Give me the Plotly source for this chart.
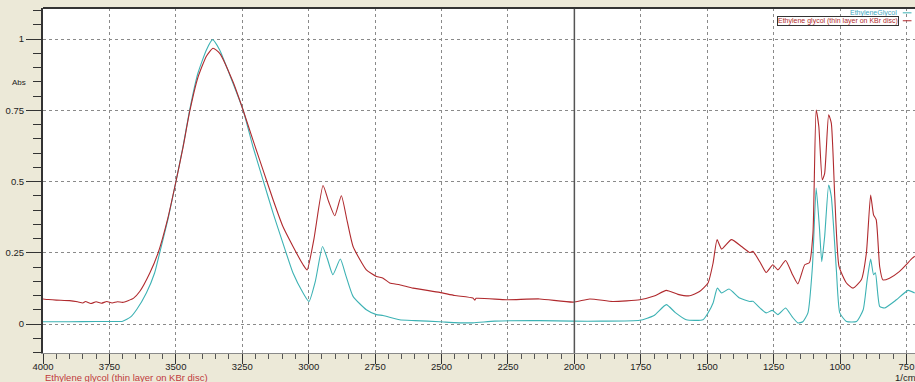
import plotly.graph_objects as go

# ---- data ----
teal_wn = [4000, 3900, 3800, 3750, 3700, 3670, 3648, 3611, 3580, 3561, 3530, 3501, 3473, 3448,
           3417, 3385, 3362, 3335, 3285, 3247, 3210, 3172, 3134, 3097, 3059, 3021, 2999, 2975,
           2948, 2930, 2909, 2881, 2860, 2833, 2783, 2745, 2720, 2658, 2600, 2507, 2450, 2382,
           2300, 2131, 2005, 1900, 1754, 1700, 1654, 1620, 1579, 1516, 1497, 1478, 1462, 1446,
           1418, 1378, 1340, 1328, 1300, 1278, 1255, 1234, 1205, 1180, 1159, 1140, 1121, 1104,
           1090, 1078, 1069, 1058, 1043, 1033, 1014, 1001, 976, 938, 913, 898, 885, 874, 867,
           851, 833, 788, 744, 719]
teal_abs = [0.008, 0.008, 0.009, 0.009, 0.010, 0.025, 0.050, 0.109, 0.179, 0.249, 0.366, 0.494,
            0.623, 0.751, 0.880, 0.962, 0.998, 0.962, 0.845, 0.751, 0.623, 0.506, 0.389, 0.284,
            0.179, 0.109, 0.079, 0.150, 0.272, 0.230, 0.173, 0.228, 0.170, 0.097, 0.050, 0.033,
            0.030, 0.015, 0.012, 0.008, 0.005, 0.004, 0.010, 0.012, 0.010, 0.010, 0.013, 0.030,
            0.068, 0.040, 0.015, 0.015, 0.039, 0.074, 0.126, 0.109, 0.123, 0.091, 0.079, 0.080,
            0.055, 0.039, 0.048, 0.033, 0.056, 0.025, 0.004, 0.008, 0.039, 0.202, 0.477, 0.342,
            0.219, 0.307, 0.488, 0.447, 0.190, 0.039, 0.009, 0.009, 0.050, 0.155, 0.228, 0.173,
            0.180, 0.062, 0.056, 0.085, 0.118, 0.109]

red_wn = [4000, 3980, 3950, 3900, 3870, 3850, 3840, 3820, 3800, 3780, 3760, 3740, 3720, 3700,
          3680, 3660, 3636, 3598, 3567, 3530, 3501, 3473, 3448, 3417, 3385, 3360, 3335, 3285,
          3247, 3210, 3172, 3134, 3097, 3059, 3021, 3006, 2980, 2946, 2925, 2902, 2877, 2855,
          2833, 2783, 2745, 2720, 2695, 2658, 2607, 2507, 2450, 2382, 2375, 2370, 2256, 2131,
          2005, 1942, 1855, 1754, 1700, 1654, 1610, 1566, 1529, 1497, 1478, 1463, 1446, 1409,
          1371, 1340, 1328, 1300, 1278, 1253, 1234, 1205, 1180, 1159, 1133, 1115, 1102, 1090,
          1080, 1067, 1058, 1043, 1033, 1020, 1004, 976, 951, 920, 901, 885, 874, 864, 851,
          839, 814, 777, 728, 719]
red_abs = [0.088, 0.086, 0.084, 0.082, 0.078, 0.074, 0.079, 0.072, 0.078, 0.073, 0.079, 0.074,
           0.078, 0.076, 0.082, 0.090, 0.114, 0.179, 0.249, 0.372, 0.494, 0.620, 0.745, 0.865,
           0.940, 0.968, 0.950, 0.850, 0.751, 0.646, 0.541, 0.436, 0.342, 0.272, 0.208, 0.190,
           0.300, 0.486, 0.430, 0.380, 0.450, 0.360, 0.272, 0.190, 0.167, 0.161, 0.144, 0.138,
           0.126, 0.111, 0.100, 0.091, 0.084, 0.090, 0.085, 0.088, 0.077, 0.088, 0.079, 0.085,
           0.098, 0.118, 0.104, 0.099, 0.114, 0.144, 0.214, 0.296, 0.263, 0.296, 0.272, 0.251,
           0.255, 0.215, 0.181, 0.208, 0.190, 0.223, 0.175, 0.141, 0.208, 0.216, 0.319, 0.751,
           0.693, 0.506, 0.529, 0.734, 0.705, 0.447, 0.202, 0.144, 0.126, 0.155, 0.249, 0.453,
           0.383, 0.366, 0.202, 0.155, 0.161, 0.184, 0.231, 0.238]

teal_name = "EthyleneGlycol"
red_name = "Ethylene glycol (thin layer on KBr disc)"
y_ticks = [0, 0.25, 0.5, 0.75, 1]
y_labels = ["0", "0.25", "0.5", "0.75", "1"]

TEAL = "#3DB2B4"
RED = "#B02A2E"
FONT = "Liberation Sans, Arial, sans-serif"

fig = go.Figure()
fig.add_trace(go.Scatter(x=teal_wn, y=teal_abs, mode="lines", name=teal_name,
                         line=dict(color=TEAL, width=1.1, shape="spline", smoothing=0.5)))
fig.add_trace(go.Scatter(x=red_wn, y=red_abs, mode="lines", name=red_name,
                         line=dict(color=RED, width=1.1, shape="spline", smoothing=0.5)))

fig.update_layout(
    width=915, height=382,
    margin=dict(l=43, r=0, t=8, b=29, autoexpand=False),
    paper_bgcolor="#ECE9D8",
    plot_bgcolor="#FFFFFF",
    showlegend=False,
    hovermode=False,
    font=dict(family=FONT, size=9.5, color="#222222"),
    xaxis=dict(
        range=[4000, 718], dtick=250, tick0=0, automargin=False,
        ticks="outside", ticklen=10, tickcolor="#333333", tickwidth=1,
        ticklabelstandoff=-5,
        minor=dict(dtick=50, ticks="outside", ticklen=5, tickcolor="#555555", showgrid=False),
        showgrid=True, gridcolor="#8A8A8A", griddash="3px,3px", gridwidth=1,
        showline=True, linecolor="#8A8A8A", linewidth=1,
        zeroline=False, tickfont=dict(size=9.5, family=FONT, color="#222222"),
    ),
    yaxis=dict(
        range=[-0.1017, 1.109], tickvals=y_ticks, ticktext=y_labels, automargin=False,
        ticks="outside", ticklen=15, tickcolor="#333333", tickwidth=1,
        minor=dict(dtick=0.05, tick0=0, ticks="outside", ticklen=8, tickcolor="#333333",
                   showgrid=False),
        showgrid=True, gridcolor="#8A8A8A", griddash="3px,3px", gridwidth=1,
        showline=True, linecolor="#333333", linewidth=2,
        zeroline=False, tickfont=dict(size=9.5, family=FONT, color="#222222"),
    ),
)

# vertical scale-change marker at 2000 1/cm and top frame
fig.add_shape(type="line", xref="x", yref="paper", x0=2000, x1=2000, y0=0, y1=1,
              line=dict(color="#555555", width=1.5))
fig.add_shape(type="line", xref="paper", yref="paper", x0=0, x1=1, y0=1, y1=1,
              line=dict(color="#333333", width=2))

# axis captions
fig.add_annotation(text="Abs", xref="paper", yref="paper", x=-0.038, y=0.783,
                   xanchor="left", yanchor="middle", showarrow=False,
                   font=dict(size=8, family=FONT, color="#222222"))
fig.add_annotation(text=red_name, xref="paper", yref="paper", x=0.0, y=-0.07,
                   xanchor="left", yanchor="middle", showarrow=False,
                   font=dict(size=9.5, family=FONT, color="#C0393B"))
fig.add_annotation(text="1/cm", xref="paper", yref="paper", x=0.975, y=-0.07,
                   xanchor="left", yanchor="middle", showarrow=False,
                   font=dict(size=9.5, family=FONT, color="#222222"))

# legend (top right)
fig.add_annotation(text=teal_name, xref="paper", yref="paper", x=0.9815, y=0.986,
                   xanchor="right", yanchor="middle", showarrow=False,
                   font=dict(size=7, family=FONT, color="#3FA8C0"))
fig.add_annotation(text=red_name, xref="paper", yref="paper", x=0.9815, y=0.963,
                   xanchor="right", yanchor="middle", showarrow=False,
                   bordercolor="#333333", borderwidth=1, borderpad=0, bgcolor="#FFFFFF",
                   font=dict(size=7, family=FONT, color="#B02A2E"))
fig.add_shape(type="line", xref="paper", yref="paper", x0=0.986, x1=0.996, y0=0.986, y1=0.986,
              line=dict(color=TEAL, width=1))
fig.add_shape(type="line", xref="paper", yref="paper", x0=0.986, x1=0.996, y0=0.963, y1=0.963,
              line=dict(color=RED, width=1))

fig.write_html("out.html", config={"displayModeBar": False, "staticPlot": True},
               post_script="document.body.style.margin='0';document.body.style.overflow='hidden';")
